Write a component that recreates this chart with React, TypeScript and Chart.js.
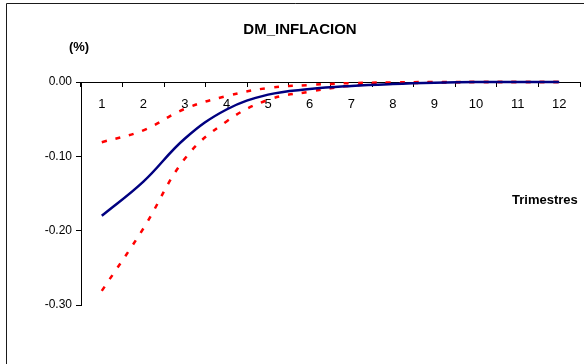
import React, { useEffect, useRef } from 'react';
import { Chart, registerables } from 'chart.js';

Chart.register(...registerables);

const quarters = ['1', '2', '3', '4', '5', '6', '7', '8', '9', '10', '11', '12'];
const response = [-0.18, -0.134, -0.076, -0.037, -0.017, -0.0095, -0.0053, -0.0027, -0.001, 0, 0, 0];
const upperBand = [-0.081, -0.065, -0.036, -0.019, -0.008, -0.004, -0.0015, -0.0005, 0, 0, 0, 0];
const lowerBand = [-0.281, -0.197, -0.103, -0.053, -0.024, -0.013, -0.005, -0.002, -0.001, 0, 0, 0];
const yTicks = [0, -0.1, -0.2, -0.3];
const chartTitle = 'DM_INFLACION';
const yUnit = '(%)';
const xTitle = 'Trimestres';

const FONT = '"Liberation Sans", Arial, sans-serif';

const decorPlugin = {
  id: 'decor',
  beforeDraw(chart: any) {
    const ctx = chart.ctx;
    ctx.save();
    ctx.fillStyle = '#ffffff';
    ctx.fillRect(0, 0, chart.width, chart.height);
    ctx.strokeStyle = '#1a1a1a';
    ctx.lineWidth = 1;
    ctx.beginPath();
    ctx.moveTo(6.5, chart.height);
    ctx.lineTo(6.5, 3.5);
    ctx.lineTo(chart.width, 3.5);
    ctx.stroke();
    ctx.restore();
  },
  afterDraw(chart: any) {
    const ctx = chart.ctx;
    ctx.save();
    ctx.fillStyle = '#000000';
    ctx.textBaseline = 'middle';
    ctx.textAlign = 'center';
    ctx.font = `bold 15px ${FONT}`;
    ctx.fillText(chartTitle, 300, 30);
    ctx.font = `bold 13px ${FONT}`;
    ctx.fillText(yUnit, 79, 47);
    ctx.textAlign = 'left';
    ctx.font = `bold 13px ${FONT}`;
    ctx.fillText(xTitle, 512, 200);
    ctx.restore();
  },
};

export default function App() {
  const canvasRef = useRef<HTMLCanvasElement | null>(null);

  useEffect(() => {
    if (!canvasRef.current) return;
    const chart = new Chart(canvasRef.current, {
      type: 'line',
      data: {
        labels: quarters,
        datasets: [
          {
            label: 'Respuesta',
            data: response,
            borderColor: '#000080',
            borderWidth: 2.5,
            pointRadius: 0,
            tension: 0.4,
            fill: false,
            clip: false as any,
          },
          {
            label: 'Banda superior',
            data: upperBand,
            borderColor: '#ff0000',
            borderWidth: 2.5,
            borderDash: [5, 9],
            pointRadius: 0,
            tension: 0.4,
            fill: false,
            clip: false as any,
          },
          {
            label: 'Banda inferior',
            data: lowerBand,
            borderColor: '#ff0000',
            borderWidth: 2.5,
            borderDash: [5, 9],
            pointRadius: 0,
            tension: 0.4,
            fill: false,
            clip: false as any,
          },
        ],
      },
      options: {
        responsive: false,
        animation: false,
        layout: { padding: { left: 0, top: 82, right: 4, bottom: 59 } },
        plugins: {
          legend: { display: false },
          title: { display: false },
          tooltip: { enabled: false },
        },
        scales: {
          x: {
            type: 'category',
            position: { y: 0 } as any,
            offset: true,
            grid: {
              offset: true,
              drawOnChartArea: false,
              drawTicks: true,
              tickLength: 4,
              color: '#000000',
            },
            border: { display: true, color: '#000000', width: 1 },
            ticks: {
              autoSkip: false,
              maxRotation: 0,
              padding: 11,
              color: '#000000',
              font: { family: FONT, size: 13 },
            },
          },
          y: {
            type: 'linear',
            min: -0.3,
            max: 0,
            afterBuildTicks(scale: any) {
              scale.ticks = yTicks.map((v) => ({ value: v }));
            },
            afterFit(scale: any) {
              scale.width = 81;
            },
            grid: {
              drawOnChartArea: false,
              drawTicks: true,
              tickLength: 5,
              color: '#000000',
            },
            border: { display: true, color: '#000000', width: 1 },
            ticks: {
              padding: 4,
              color: '#000000',
              font: { family: FONT, size: 12 },
              callback: (v: any) => Number(v).toFixed(2),
            },
          },
        },
      },
      plugins: [decorPlugin],
    });
    return () => chart.destroy();
  }, []);

  return (
    <div style={{ position: 'absolute', left: 0, top: 0, width: 584, height: 364 }}>
      <canvas ref={canvasRef} width={584} height={364} />
    </div>
  );
}
